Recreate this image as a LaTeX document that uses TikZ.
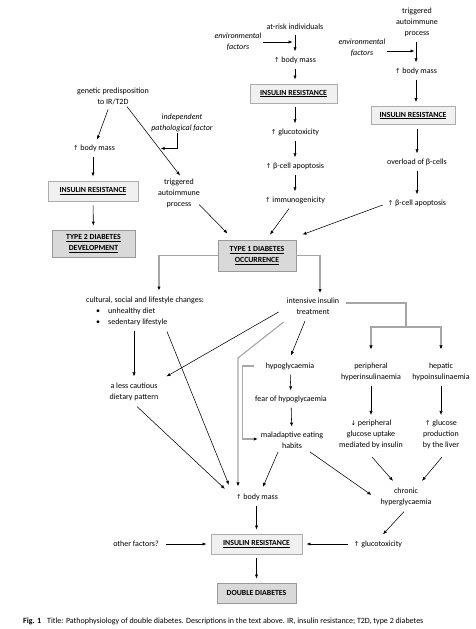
\documentclass[tikz,border=0pt]{standalone}
\usepackage{fontspec}
\setmainfont{Carlito}
\newfontfamily\symf{DejaVu Sans}
\usetikzlibrary{arrows.meta,calc,shadows}
\newcommand{\upar}{{\symf\fontsize{6.6}{6.6}\selectfont ↑}}
\newcommand{\dnar}{{\symf\fontsize{6.6}{6.6}\selectfont ↓}}
\begin{document}
\begin{tikzpicture}[x=1pt,y=-1pt,
  txt/.style={align=center,inner sep=1pt,font=\fontsize{8}{10.9}\selectfont},
  itx/.style={txt,font=\fontsize{8}{10.9}\selectfont\itshape},
  tip/.style={-{Latex[length=4pt,width=3.2pt]}},
  arr/.style={draw=black,line width=0.55pt,tip,shorten <=4pt,shorten >=4pt},
  arr0/.style={draw=black,line width=0.55pt,tip},
  gline/.style={draw=gray!70,line width=1.1pt},
  garr/.style={gline,-{Latex[length=4pt,width=3.4pt,color=black]}},
  irbox/.style={draw=gray!65,line width=0.9pt,fill=gray!12,inner sep=1pt,align=center,
     font=\fontsize{7.8}{11}\selectfont\bfseries,
     drop shadow={shadow xshift=0.8pt,shadow yshift=-0.8pt,fill=gray!70,opacity=1}},
  dbox/.style={irbox,fill=gray!30,draw=gray!80},
]
\useasboundingbox[fill=white] (0,0) rectangle (475,629);

% ---------- left top
\node[txt] (gen) at (113,96) {genetic predisposition\\to IR/T2D};
\node[itx] (indep) at (182,123) {independent\\pathological factor};
\node[txt] (bmL) at (94,148) {\upar\ body mass};
\node[irbox,minimum width=90,minimum height=20] (irL) at (93,191) {\underline{INSULIN RESISTANCE}};
\node[dbox,minimum width=83,minimum height=27] (t2d) at (93.5,243.5) {\underline{TYPE 2 DIABETES}\\\underline{DEVELOPMENT}};
\node[txt] (trigL) at (179,193) {triggered\\autoimmune\\process};

% ---------- middle top
\node[txt] (atrisk) at (295,27) {at-risk individuals};
\node[itx] (envM) at (238,42) {environmental\\factors};
\node[txt] (bmM) at (295,60) {\upar\ body mass};
\node[irbox,minimum width=87,minimum height=19] (irM) at (293.5,93.5) {\underline{INSULIN RESISTANCE}};
\node[txt] (glucM) at (295,132) {\upar\ glucotoxicity};
\node[txt] (apopM) at (295,166) {\upar\ β-cell apoptosis};
\node[txt] (immun) at (295,200) {\upar\ immunogenicity};

% ---------- right top
\node[txt] (trigR) at (417,22) {triggered\\autoimmune\\process};
\node[itx] (envR) at (362,48) {environmental\\factors};
\node[txt] (bmR) at (416,71) {\upar\ body mass};
\node[irbox,minimum width=84,minimum height=18] (irR) at (413,115.5) {\underline{INSULIN RESISTANCE}};
\node[txt] (overload) at (417,162) {overload of β-cells};
\node[txt] (apopR) at (417,203) {\upar\ β-cell apoptosis};

% ---------- T1D
\node[dbox,minimum width=78,minimum height=31] (t1d) at (257,255.5) {\underline{TYPE 1 DIABETES}\\\underline{OCCURRENCE}};

% ---------- lower half
\node[txt,align=left,anchor=north west] (cult) at (85,295.5) {cultural, social and lifestyle changes:\\\hspace*{10pt}\textbullet\hspace{8pt}unhealthy diet\\\hspace*{10pt}\textbullet\hspace{8pt}sedentary lifestyle};
\node[txt] (intens) at (313,306.5) {intensive insulin\\treatment};
\node[txt] (periph) at (371,371.5) {peripheral\\hyperinsulinaemia};
\node[txt] (hepat) at (441,371.5) {hepatic\\hypoinsulinaemia};
\node[txt] (downP) at (371,434.5) {\dnar\ peripheral\\glucose uptake\\mediated by insulin};
\node[txt] (upG) at (441,434.5) {\upar\ glucose\\production\\by the liver};
\node[txt] (hypo) at (290,366) {hypoglycaemia};
\node[txt] (fear) at (291,399) {fear of hypoglycaemia};
\node[txt] (malad) at (292,440) {maladaptive eating\\habits};
\node[txt] (dietary) at (134,391.5) {a less cautious\\dietary pattern};
\node[txt] (bmB) at (257,497) {\upar\ body mass};
\node[txt] (chronic) at (406,496.5) {chronic\\hyperglycaemia};
\node[txt] (glucB) at (378,544) {\upar\ glucotoxicity};
\node[irbox,minimum width=91,minimum height=20] (irB) at (256.5,544) {\underline{INSULIN RESISTANCE}};
\node[txt] (other) at (136,544) {other factors?};
\node[dbox,minimum width=79,minimum height=20] (dd) at (256.5,593) {DOUBLE DIABETES};
\node[anchor=west,inner sep=0pt,font=\fontsize{8}{9}\selectfont] (cap) at (23,621)
  {\textbf{Fig. 1}\hspace{6pt}Title: Pathophysiology of double diabetes. Descriptions in the text above. IR, insulin resistance; T2D, type 2 diabetes};

% ---------- connectors: left top
\draw[arr] (gen) -- (bmL);
\draw[arr] (bmL.south -| irL) -- (irL.north);
\draw[arr] (irL) -- (t2d);
\coordinate (gs) at ($(gen.south)+(14,1)$);
\draw[arr0] (gs) -- ($(trigL.north)+(1,-2)$);
\coordinate (gi) at ($(gs)!0.59!(trigL.north)$);
\draw[arr0] ($(indep.south)+(-5,0)$) |- ($(gi)+(3,0)$);
\draw[arr0] ($(trigL.south east)+(-2,-4)$) -- ($(t1d.north west)+(10,-6)$);

% ---------- middle top
\draw[arr] (atrisk.south -| bmM) -- (bmM.north);
\coordinate (eM) at (envM.east -| bmM);
\draw[arr0] (envM.east) -- ($(eM)+(-2.5,0)$);
\draw[arr] (bmM.south) -- (bmM.south |- irM.north);
\draw[arr] (irM.south -| glucM) -- (glucM.north);
\draw[arr] (glucM) -- (apopM);
\draw[arr] (apopM) -- (immun);
\draw[arr0] ($(immun.south)+(-6,4)$) -- ($(t1d.north)+(13,-5)$);

% ---------- right top
\draw[arr] (trigR.south -| bmR) -- (bmR.north);
\coordinate (eR) at ($(envR.east)+(0,3)$);
\draw[arr0] (eR) -- ($(eR -| bmR)+(-1.5,0)$);
\draw[arr] (bmR.south -| bmR) -- (bmR.south |- irR.north);
\draw[arr] (irR.south -| overload) -- (overload.north);
\draw[arr] (overload) -- (apopR);
\draw[arr0] ($(apopR.west)+(-4,2)$) -- ($(t1d.north east)+(6,-5)$);

% ---------- T1D branches
\draw[garr] (t1d.west) -| ($(cult.north west)+(74,-5)$);
\draw[garr] (t1d.east) -| ($(intens.north)+(7,-4)$);

% ---------- intensive insulin treatment
\coordinate (br) at (406,327);
\draw[gline] ($(intens.north east)+(6,6)$) -| (br);
\draw[garr] (br) -| ($(periph.north)+(0,-12)$);
\draw[garr] (br) -| ($(hepat.north)+(0,-12)$);
\draw[arr] (periph) -- (downP);
\draw[arr] (hepat) -- (upG);
\draw[arr0] ($(downP.south)+(1,7)$) -- ($(chronic.north)+(-13,-5.5)$);
\draw[arr0] ($(upG.south)+(1,7)$) -- ($(chronic.north)+(16,-5.5)$);
\draw[arr0] ($(intens.south)+(-8,5)$) -- ($(hypo.north)+(1,-6)$);
\draw[arr] (hypo) -- (fear);
\draw[arr] (fear) -- (malad);
\draw[garr] ($(hypo.west)+(-11,0)$) -- ++(-11,0) |- ($(malad.west)+(-2,-1)$);
\draw[arr0] ($(intens.south west)+(-7,-4)$) -- ($(dietary.north east)+(7,-5)$);
\coordinate (kink) at (238,358);
\draw[garr] ($(intens.south west)+(-2,6)$) -- (kink) -- (kink |- bmB.north) [shorten >=6pt];

% ---------- lifestyle
\coordinate (c1) at (cult.south -| dietary.north);
\draw[arr0] ($(c1)+(0,4)$) -- ($(dietary.north)+(0,-5)$);
\draw[arr0] ($(cult.south west)+(82,5)$) -- ($(bmB.north west)+(-6,-7.5)$);
\draw[arr0] ($(dietary.south)+(3,5)$) -- ($(bmB.north west)+(-10,-3.5)$);
\draw[arr0] ($(malad.south)+(-14,2.5)$) -- ($(bmB.north)+(6,-5.5)$);
\draw[arr0] ($(malad.south)+(18,2.5)$) -- ($(chronic.west)+(-8,-1.5)$);

% ---------- bottom
\draw[arr0] ($(chronic.south)+(-2,5)$) -- ($(glucB.north)+(5,-5)$);
\draw[arr0] ($(glucB.west)+(-5,0)$) -- ($(irB.east)+(4,0)$);
\draw[arr0] ($(other.east)+(6,0)$) -- ($(irB.west)+(-4,0)$);
\draw[arr] (bmB.south -| irB) -- (irB.north);
\draw[arr] (irB) -- (dd);
\end{tikzpicture}
\end{document}
